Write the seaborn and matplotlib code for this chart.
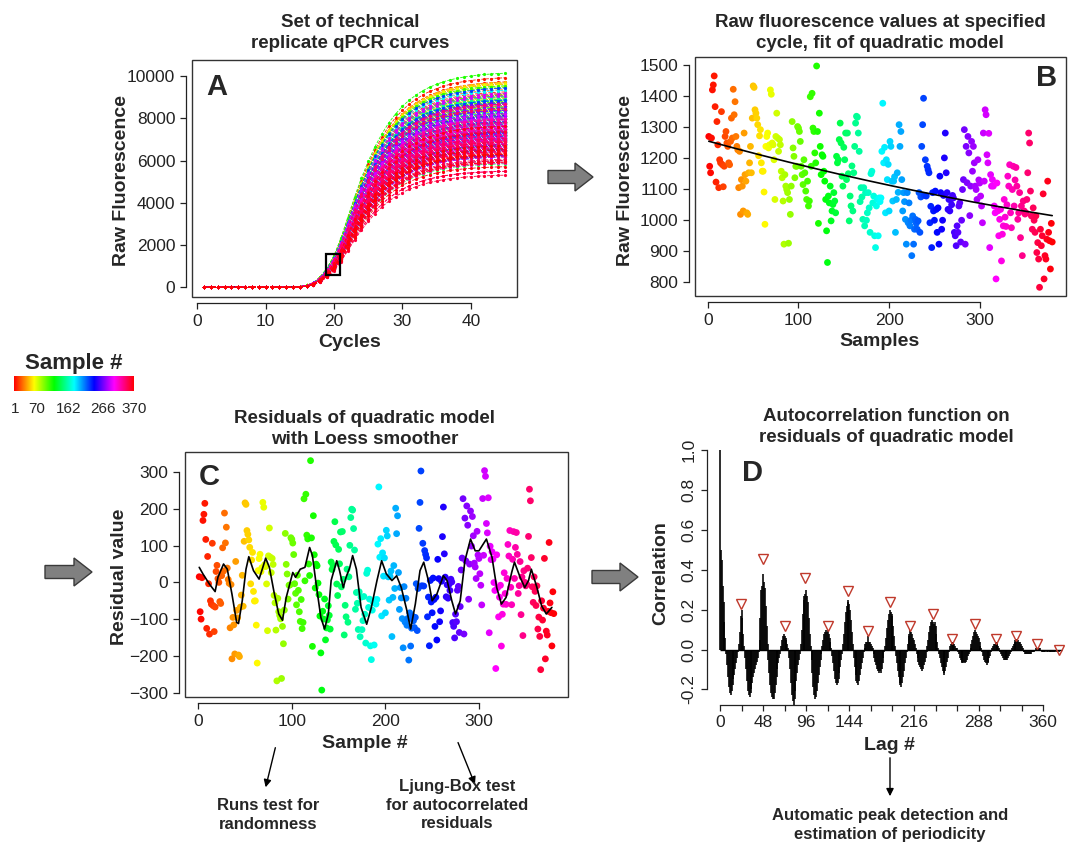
import colorsys
import numpy as np
import pandas as pd
import matplotlib
matplotlib.use("Agg")
import matplotlib.pyplot as plt
import matplotlib.patches as mpatches
from matplotlib.colors import ListedColormap
import seaborn as sns

# Raw fluorescence at the selected cycle, samples 1..380 (panel B)
raw_fluo = [
    1270, 1174, 1153, 1265, 1420, 1436, 1465, 1366, 1123, 1318,
    1243, 1105, 1195, 1185, 1350, 1179, 1108, 1174, 1270, 1286,
    1249, 1238, 1185, 1179, 1254, 1329, 1265, 1422, 1340, 1382,
    1270, 1238, 1227, 1105, 1222, 1019, 1131, 1110, 1030, 1281,
    1147, 1126, 1024, 1019, 1153, 1185, 1238, 1153, 1329, 1433,
    1428, 1356, 1345, 1329, 1308, 1208, 1272, 1292, 1185, 1158,
    1158, 1091, 987, 1238, 1270, 1281, 1233, 1243, 1420, 1406,
    1249, 1243, 1195, 1067, 1270, 1345, 1265, 1222, 1260, 1243,
    1158, 1137, 1062, 923, 1147, 1110, 1099, 1089, 926, 1067,
    1019, 1110, 1318, 1233, 1206, 1137, 1174, 1174, 1302, 1297,
    1286, 1254, 1174, 1147, 1115, 1195, 1153, 1094, 1067, 1126,
    1046, 1062, 1398, 1174, 1409, 1297, 1286, 1217, 1185, 1497,
    1286, 990, 1345, 1238, 1147, 1211, 1206, 1158, 1126, 1067,
    966, 864, 1078, 1056, 1110, 998, 1030, 1051, 1089, 1062,
    1024, 1206, 1185, 1195, 1260, 1313, 1249, 1142, 1110, 1235,
    1195, 1281, 1131, 1281, 1150, 998, 1078, 1046, 1175, 1030,
    1153, 1238, 1313, 1335, 1332, 1281, 1222, 1060, 1105, 1075,
    1003, 1105, 982, 1089, 1000, 1024, 1089, 1040, 961, 1150,
    1158, 1056, 1078, 950, 912, 1046, 1067, 950, 1072, 1060,
    1072, 1222, 1377, 1185, 1235, 1024, 1195, 1131, 1180, 1030,
    1254, 1238, 1126, 1062, 1126, 1140, 961, 1067, 1153, 1090,
    1308, 1238, 1286, 1131, 1030, 1089, 1060, 1003, 923, 1089,
    992, 1056, 982, 1000, 886, 1014, 923, 971, 1003, 990,
    971, 998, 1089, 961, 1075, 1238, 1308, 1393, 1080, 1195,
    1078, 1174, 1163, 1153, 992, 1045, 912, 1089, 1030, 1000,
    1094, 1035, 961, 1040, 923, 1142, 1089, 971, 1000, 1080,
    1201, 1281, 1153, 1089, 1035, 1067, 1030, 1067, 1050, 1080,
    1072, 961, 950, 918, 982, 961, 1046, 1056, 930, 1000,
    1099, 1131, 1292, 923, 1238, 1121, 1270, 1217, 1015, 1110,
    1254, 1158, 1238, 1185, 1110, 1099, 1067, 1195, 1130, 1120,
    1078, 1046, 992, 1281, 1126, 1356, 1340, 1211, 1185, 1280,
    912, 1147, 1110, 1131, 1110, 1046, 1024, 811, 1120, 1030,
    950, 1003, 1035, 869, 955, 982, 1067, 1010, 980, 1050,
    1142, 1110, 1179, 1024, 976, 1099, 1174, 1046, 1130, 1170,
    1110, 1003, 1024, 1089, 944, 1046, 886, 1062, 1030, 1020,
    1024, 1067, 1153, 1281, 1249, 1094, 1014, 971, 1040, 1000,
    961, 1014, 896, 928, 875, 784, 971, 918, 950, 1085,
    811, 886, 875, 939, 1126, 961, 934, 843, 990, 930,
]
samples = np.arange(1, len(raw_fluo) + 1)

# Typical amplification curve (panel A), cycles 1..45
cycles = np.arange(1, 46)
base_curve = [0, 0, 0, 0, 0, 0, 0, 0, 0, 0, 0, 0, 0, 0, 20,
              60, 150, 330, 620, 1000, 1550, 2200, 2850, 3450, 3980,
              4450, 4850, 5200, 5480, 5720, 5920, 6080, 6220, 6330, 6420,
              6500, 6560, 6610, 6650, 6680, 6710, 6730, 6745, 6760, 6770]
sel_cycle = 20

# Loess smoother of the residuals (panel C)
loess_sample = [1, 5, 12, 18, 21, 27, 31, 36, 41, 43, 47, 51, 54, 59, 65, 69, 72, 76, 81, 86,
                90, 94, 101, 104, 109, 114, 119, 122, 126, 131, 135, 139, 142, 148, 151, 155,
                158, 162, 165, 169, 174, 180, 185, 191, 196, 201, 207, 212, 217, 223, 227, 232,
                237, 241, 246, 250, 255, 262, 266, 271, 275, 280, 285, 291, 296, 300, 308, 314,
                319, 324, 329, 335, 338, 344, 349, 353, 356, 362, 367, 372, 378]
loess_value = [41, 23, -5, -25, 14, 50, 36, -32, -109, -112, -50, 36, 70, 32, 9, 41, 66, 41, -27, -86,
               -103, -41, 27, 14, 36, 41, 95, 73, -5, -95, -127, -86, 5, 59, 32, -14,
               14, 41, 73, 36, -68, -114, -68, 5, 59, 23, 5, 18, -14, -77, -127, -59,
               32, 55, 5, -50, -32, 18, 5, -50, -86, -50, 59, 118, 86, 86, 118, 68,
               -14, -59, -41, 27, 55, 14, -14, 5, 36, -14, -64, -86, -68]

# Autocorrelation of residuals, lag 0..378, written lobe by lobe (panel D)
acf_lobes = [
    [1.00, 0.50, 0.45, 0.32, 0.24, 0.14, 0.06],
    [-0.02, -0.08, -0.14, -0.19, -0.22, -0.23, -0.21, -0.18, -0.15, -0.13, -0.10, -0.07, -0.04, -0.01],
    [0.03, 0.09, 0.17, 0.20, 0.16, 0.08, 0.02],
    [-0.04, -0.10, -0.16, -0.21, -0.23, -0.24, -0.22, -0.20, -0.17, -0.14, -0.12, -0.10, -0.08, -0.06, -0.04, -0.01],
    [0.05, 0.16, 0.30, 0.32, 0.38, 0.34, 0.31, 0.22, 0.12, 0.03],
    [-0.05, -0.12, -0.18, -0.22, -0.24, -0.25, -0.25, -0.22, -0.18, -0.14, -0.10, -0.07, -0.04, -0.02],
    [0.02, 0.05, 0.07, 0.08, 0.07, 0.06, 0.05, 0.03, 0.01],
    [-0.04, -0.10, -0.17, -0.23, -0.26, -0.28, -0.25, -0.21, -0.16, -0.12, -0.08, -0.05, -0.02],
    [0.03, 0.10, 0.18, 0.25, 0.27, 0.28, 0.30, 0.27, 0.24, 0.16, 0.08, 0.02],
    [-0.05, -0.12, -0.19, -0.23, -0.25, -0.24, -0.21, -0.17, -0.13, -0.09, -0.05, -0.02],
    [0.02, 0.05, 0.08, 0.09, 0.10, 0.09, 0.10, 0.08, 0.06, 0.04, 0.01],
    [-0.03, -0.07, -0.11, -0.15, -0.17, -0.18, -0.17, -0.15, -0.12, -0.09, -0.05, -0.02],
    [0.03, 0.08, 0.14, 0.19, 0.22, 0.24, 0.25, 0.23, 0.20, 0.15, 0.09, 0.03],
    [-0.04, -0.09, -0.13, -0.16, -0.17, -0.18, -0.16, -0.13, -0.10, -0.07, -0.04, -0.01],
    [0.01, 0.03, 0.04, 0.04, 0.07, 0.04, 0.04, 0.03, 0.02, 0.01],
    [-0.02, -0.04, -0.06, -0.08, -0.10, -0.11, -0.12, -0.11, -0.12, -0.10, -0.07, -0.04, -0.01],
    [0.02, 0.06, 0.11, 0.15, 0.18, 0.20, 0.19, 0.18, 0.17, 0.12, 0.07, 0.02],
    [-0.03, -0.07, -0.11, -0.14, -0.17, -0.18, -0.19, -0.17, -0.14, -0.11, -0.07, -0.04, -0.01],
    [0.03, 0.07, 0.08, 0.10, 0.09, 0.08, 0.06, 0.05, 0.03, 0.01],
    [-0.02, -0.04, -0.06, -0.08, -0.09, -0.10, -0.11, -0.10, -0.08, -0.06, -0.04, -0.01],
    [0.02, 0.05, 0.09, 0.12, 0.14, 0.15, 0.14, 0.13, 0.14, 0.12, 0.08, 0.04, 0.01],
    [-0.02, -0.04, -0.07, -0.09, -0.11, -0.12, -0.13, -0.11, -0.09, -0.06, -0.04, -0.01],
    [0.02, 0.03, 0.04, 0.04, 0.03, 0.03, 0.02, 0.01, 0.01],
    [-0.01, -0.02, -0.04, -0.05, -0.06, -0.07, -0.07, -0.06, -0.07, -0.06, -0.05, -0.03, -0.02, -0.01],
    [0.01, 0.03, 0.05, 0.07, 0.09, 0.10, 0.09, 0.08, 0.07, 0.06, 0.04, 0.02, 0.01],
    [-0.01, -0.03, -0.05, -0.06, -0.07, -0.08, -0.07, -0.06, -0.04, -0.03, -0.01],
    [0.01, 0.02, 0.03, 0.03, 0.04, 0.04, 0.03, 0.02, 0.01],
    [-0.01, -0.02, -0.03, -0.04, -0.05, -0.05, -0.05, -0.04, -0.05, -0.04, -0.03, -0.02, -0.01],
    [0.01, 0.02, 0.03, 0.04, 0.05, 0.05, 0.055, 0.05, 0.04, 0.04, 0.03, 0.02, 0.01],
    [-0.01, -0.01, -0.02, -0.02, -0.02, -0.02, -0.02, -0.02, -0.02, -0.01, -0.01, -0.01, -0.01],
    [0.00, 0.01, 0.01, 0.01, 0.01, 0.01, 0.00, 0.00],
    [-0.01, -0.01, -0.01, -0.01, 0.00, -0.01, -0.01, 0.00, -0.01, -0.01,
     -0.01, -0.01, -0.01, -0.01, -0.01, 0.00, -0.01, 0.00, 0.00, -0.01],
]
peak_lag = [23, 48, 72, 95, 120, 143, 165, 189, 212, 237, 258, 284, 307, 330, 353, 377]
peak_mark = [0.23, 0.456, 0.117, 0.356, 0.117, 0.293, 0.094, 0.236, 0.117, 0.177,
             0.055, 0.13, 0.055, 0.067, 0.03, 0.0]
lag_ticks = list(range(0, 361, 24))
lag_labels = ["0", "", "48", "", "96", "", "144", "", "", "216", "", "", "288", "", "", "360"]

cbar_labels = ["1", "70", "162", "266", "370"]

# ---------------------------------------------------------------------
sns.set_style("white")
plt.rcParams["font.family"] = ["Liberation Sans", "DejaVu Sans"]
NARROW = ["Liberation Sans Narrow", "Liberation Sans", "DejaVu Sans"]

W, H = 1072, 844
fig = plt.figure(figsize=(W / 100, H / 100), dpi=100)
fig.patch.set_facecolor("white")

n = len(raw_fluo)
rainbow = ListedColormap([colorsys.hsv_to_rgb(i / n, 1, 1) for i in range(n)])


def add_ax(l, t, r, b):
    return fig.add_axes([l / W, 1 - b / H, (r - l) / W, (b - t) / H])


def ftext(x, y, s, **kw):
    fig.text(x / W, 1 - y / H, s, ha=kw.pop("ha", "center"), va=kw.pop("va", "center"), **kw)


def r_style(ax, xticks, yticks, xlim, ylim):
    ax.add_patch(mpatches.Rectangle((0, 0), 1, 1, transform=ax.transAxes, fill=False,
                                    ec="#333333", lw=1.0, clip_on=False))
    ax.set_xticks(xticks)
    ax.set_yticks(yticks)
    for s in ["top", "right"]:
        ax.spines[s].set_visible(False)
    for s in ["left", "bottom"]:
        ax.spines[s].set_position(("outward", 4.5))
        ax.spines[s].set_color("#222222")
        ax.spines[s].set_linewidth(0.9)
    ax.spines["left"].set_bounds(yticks[0], yticks[-1])
    ax.spines["bottom"].set_bounds(xticks[0], xticks[-1])
    ax.tick_params(direction="out", length=4, width=0.9, labelsize=12.5, pad=3.5,
                   colors="#222222", left=True, bottom=True)
    ax.set_xlim(*xlim)
    ax.set_ylim(*ylim)
    ax.set_xlabel("")
    ax.set_ylabel("")


# Panel A: amplification curves, scaled from the typical curve
scale = np.array(raw_fluo) / base_curve[sel_cycle - 1]
curves = pd.DataFrame({
    "sample": np.repeat(samples, len(cycles)),
    "cycle": np.tile(cycles, n),
    "fluo": np.outer(scale, base_curve).ravel(),
})
axA = add_ax(192, 60, 517, 297)
sns.lineplot(data=curves, x="cycle", y="fluo", hue="sample", palette=rainbow, hue_norm=(1, n),
             estimator=None, legend=False, ax=axA, lw=0.6, linestyle="--",
             marker="o", markersize=2.3, markeredgewidth=0)
axA.add_patch(mpatches.Rectangle((sel_cycle - 1.1, 580), 2.0, 1000, fill=False, ec="black", lw=1.6, zorder=5))
r_style(axA, [0, 10, 20, 30, 40], list(range(0, 10001, 2000)), (-0.76, 46.76), (-460, 10760))

# Panel B: raw values and quadratic fit
coef = np.polyfit(samples, raw_fluo, 2)
fitted = np.polyval(coef, samples)
dfB = pd.DataFrame({"sample": samples, "raw": raw_fluo, "resid": np.array(raw_fluo) - fitted})
axB = add_ax(695, 57, 1066, 296)
sns.scatterplot(data=dfB, x="sample", y="raw", hue="sample", palette=rainbow, hue_norm=(1, n),
                s=24, linewidth=0, legend=False, ax=axB)
sns.lineplot(x=samples, y=fitted, color="black", lw=1.2, ax=axB)
r_style(axB, [0, 100, 200, 300], list(range(800, 1501, 100)), (-14.2, 395.2), (756, 1526))

# Panel C: residuals with loess smoother
axC = add_ax(185, 452, 568, 697)
sns.scatterplot(data=dfB, x="sample", y="resid", hue="sample", palette=rainbow, hue_norm=(1, n),
                s=24, linewidth=0, legend=False, ax=axC)
sns.lineplot(x=loess_sample, y=loess_value, color="black", lw=1.2, ax=axC)
r_style(axC, [0, 100, 200, 300], list(range(-300, 301, 100)), (-14.2, 395.2), (-312, 355))

# Panel D: autocorrelation
acf = np.concatenate([np.array(l, dtype=float) for l in acf_lobes])
lags = np.arange(len(acf))
axD = add_ax(706.7, 450, 1072, 705)
axD.vlines(lags, 0, acf, color="black", lw=1.15)
axD.hlines(0, 0, 381, color="black", lw=1.0)
axD.plot(peak_lag, peak_mark, linestyle="none", marker="v", ms=7.5, mfc="none",
         mec="#c0392b", mew=1.0, clip_on=False)
for s in ["top", "right"]:
    axD.spines[s].set_visible(False)
for s in ["left", "bottom"]:
    axD.spines[s].set_color("#222222")
    axD.spines[s].set_linewidth(0.9)
axD.set_xticks(lag_ticks)
axD.set_xticklabels(lag_labels)
axD.set_yticks([-0.2, 0.0, 0.2, 0.4, 0.6, 0.8, 1.0])
axD.set_yticklabels(["-0.2", "0.0", "0.2", "0.4", "0.6", "0.8", "1.0"], rotation=90, va="center")
axD.spines["left"].set_bounds(-0.2, 1.0)
axD.spines["bottom"].set_bounds(0, 360)
axD.tick_params(direction="out", length=4, width=0.9, labelsize=12.5, pad=3.5,
                colors="#222222", left=True, bottom=True)
axD.set_xlim(-14.8, 392)
axD.set_ylim(-0.278, 1.0)

# Titles, axis labels, panel letters
title_kw = dict(fontsize=13.5, fontweight="bold", linespacing=1.25)
ftext(350, 33, "Set of technical\nreplicate qPCR curves", **title_kw)
ftext(880, 33, "Raw fluorescence values at specified\ncycle, fit of quadratic model", **title_kw)
ftext(365, 429, "Residuals of quadratic model\nwith Loess smoother", **title_kw)
ftext(886, 427, "Autocorrelation function on\nresiduals of quadratic model", **title_kw)

lab_kw = dict(fontsize=14, fontweight="bold")
ftext(350, 343, "Cycles", **lab_kw)
ftext(880, 342, "Samples", **lab_kw)
ftext(365, 744, "Sample #", **lab_kw)
ftext(890, 746, "Lag #", **lab_kw)
ftext(121, 180, "Raw Fluorescence", rotation=90, **lab_kw)
ftext(625, 180, "Raw Fluorescence", rotation=90, **lab_kw)
ftext(119, 577, "Residual value", rotation=90, **lab_kw)
ftext(661, 573, "Correlation", rotation=90, **lab_kw)

let_kw = dict(fontsize=21, fontweight="bold")
ftext(217, 87, "A", **let_kw)
ftext(1047, 78, "B", **let_kw)
ftext(209, 477, "C", **let_kw)
ftext(753, 473, "D", **let_kw)

# Sample colour key
axK = add_ax(14, 376, 134, 391)
axK.imshow(np.arange(n)[None, :], aspect="auto", cmap=rainbow)
axK.axis("off")
ftext(74, 363, "Sample #", fontsize=16, fontweight="bold")
for x, t in zip([15, 37, 69, 103, 134], cbar_labels):
    ftext(x, 409, t, fontsize=11, family=NARROW)

# Block arrows
def block_arrow(x0, x1, y):
    arr = mpatches.FancyArrow(x0 / 100, (H - y) / 100, (x1 - x0) / 100, 0, width=0.13,
                              head_width=0.28, head_length=0.18, length_includes_head=True,
                              transform=fig.dpi_scale_trans, fc="#808080", ec="#3a3a3a", lw=1.0)
    fig.add_artist(arr)


block_arrow(548, 593, 177)
block_arrow(45, 92, 572)
block_arrow(592, 638, 577)

# Thin arrows and notes
def thin_arrow(x0, y0, x1, y1):
    fig.add_artist(mpatches.FancyArrowPatch((x0 / W, 1 - y0 / H), (x1 / W, 1 - y1 / H),
                                            transform=fig.transFigure, arrowstyle="-|>",
                                            mutation_scale=11, lw=1.0, color="black"))


thin_arrow(276, 745, 265, 790)
thin_arrow(457, 740, 476, 787)
thin_arrow(890, 755, 890, 799)

note_kw = dict(fontsize=12, fontweight="bold", family=NARROW, linespacing=1.3)
ftext(268, 815, "Runs test for\nrandomness", **note_kw)
ftext(457, 805, "Ljung-Box test\nfor autocorrelated\nresiduals", **note_kw)
ftext(890, 825, "Automatic peak detection and\nestimation of periodicity", **note_kw)

fig.savefig("out.png", dpi=100)
